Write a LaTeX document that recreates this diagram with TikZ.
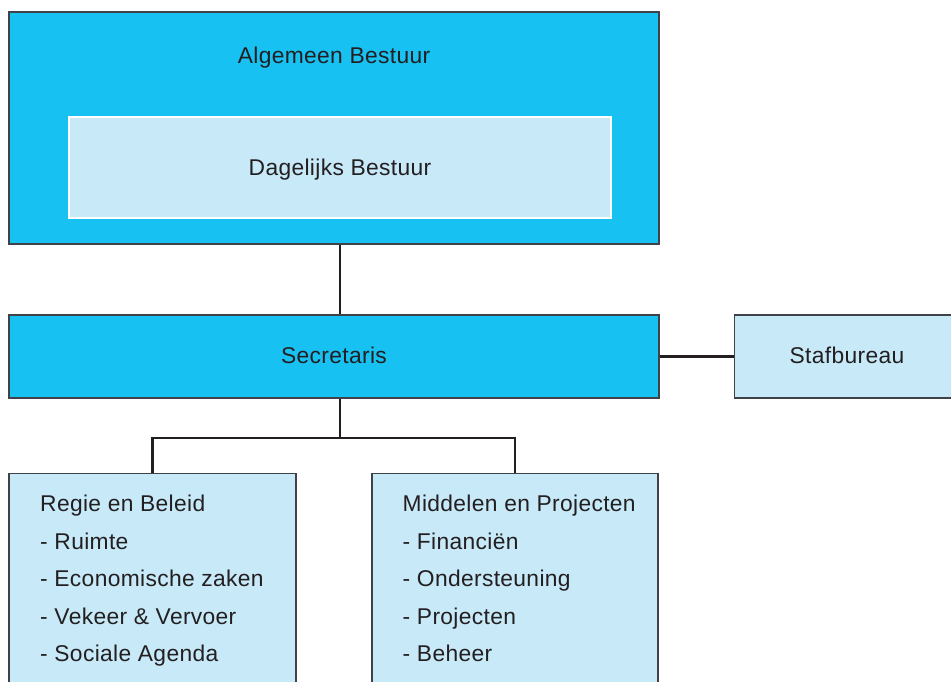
\documentclass[tikz,border=0pt]{standalone}
\usepackage{fontspec}
\setmainfont{Liberation Sans}[LetterSpace=1.5]
\definecolor{cyanfill}{HTML}{17C1F2}
\definecolor{lightfill}{HTML}{C7E9F8}
\definecolor{edge}{HTML}{3F4347}
\definecolor{ink}{HTML}{231F20}
\begin{document}
\begin{tikzpicture}[x=1pt,y=-1pt,
  box/.style={draw=edge, line width=1.2pt, rectangle, inner sep=0pt},
  dark/.style={box, fill=cyanfill},
  light/.style={box, fill=lightfill},
  lbl/.style={font=\fontsize{22.8}{27}\selectfont, text=ink, inner sep=0pt},
  conn/.style={draw=ink, line width=2.3pt}
]
\useasboundingbox (0,0) rectangle (951,682);
\clip (0,0) rectangle (951,682);
% top
\node[dark, minimum width=650pt, minimum height=232pt] (ab) at (334,128) {};
\node[lbl, anchor=base] (abt) at (334,64) {Algemeen Bestuur};
\node[fill=lightfill, draw=white, line width=1.2pt, minimum width=542pt, minimum height=101pt, inner sep=0pt] (db) at (340,167.5) {};
\node[lbl, anchor=base] (dbt) at (340,176) {Dagelijks Bestuur};
% secretaris
\node[dark, minimum width=650pt, minimum height=83pt] (sec) at (334,356.5) {};
\node[lbl, anchor=base] (sect) at (334,363) {Secretaris};
\node[light, minimum width=218pt, minimum height=83pt] (staf) at (843.5,356.5) {};
\node[lbl, anchor=base] (staft) at (847,363) {Stafbureau};
% bottom boxes
\node[light, anchor=north, minimum width=287pt, minimum height=240pt] (rb) at (152.5,473) {};
\node[light, anchor=north, minimum width=286pt, minimum height=240pt] (mp) at (515,473) {};
\node[lbl, anchor=base west] (rb0) at (40,511.5) {Regie en Beleid};
\node[lbl, anchor=base west] (rb1) at (40,549) {- Ruimte};
\node[lbl, anchor=base west] (rb2) at (40,586.7) {- Economische zaken};
\node[lbl, anchor=base west] (rb3) at (40,624) {- Vekeer \& Vervoer};
\node[lbl, anchor=base west] (rb4) at (40,661) {- Sociale Agenda};
\node[lbl, anchor=base west] (mp0) at (402.5,511.5) {Middelen en Projecten};
\node[lbl, anchor=base west] (mp1) at (402.5,549) {- Financiën};
\node[lbl, anchor=base west] (mp2) at (402.5,586.7) {- Ondersteuning};
\node[lbl, anchor=base west] (mp3) at (402.5,624) {- Projecten};
\node[lbl, anchor=base west] (mp4) at (402.5,661) {- Beheer};
% connectors
\coordinate (j) at (340,438);
\draw[conn] (ab.south -| j) -- (sec.north -| j);
\draw[conn] (sec.east |- staf.west) -- (staf.west);
\draw[conn] (sec.south -| j) -- (j);
\draw[conn] (j) -| (rb.north);
\draw[conn] (j) -| (mp.north);
\end{tikzpicture}
\end{document}
